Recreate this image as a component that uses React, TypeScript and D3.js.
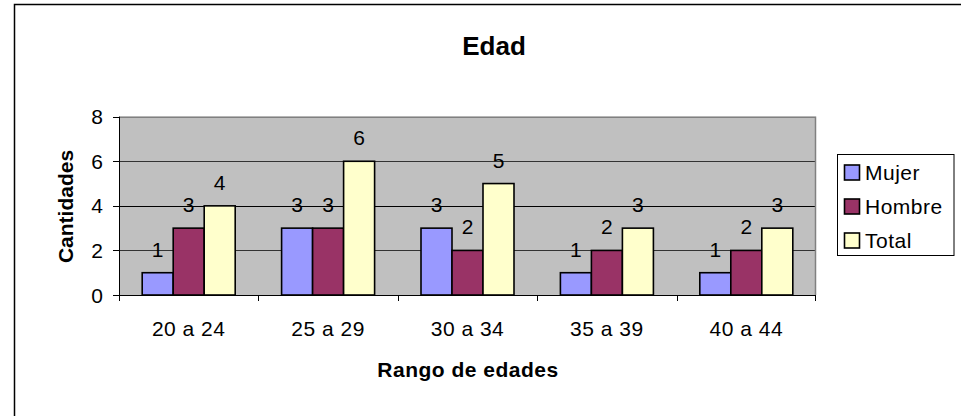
import React from "react";
import * as d3 from "d3";

const categories = ["20 a 24", "25 a 29", "30 a 34", "35 a 39", "40 a 44"];
const seriesNames = ["Mujer", "Hombre", "Total"];
const mujer = [1, 3, 3, 1, 1];
const hombre = [3, 3, 2, 2, 2];
const total = [4, 6, 5, 3, 3];
const yTicks = [0, 2, 4, 6, 8];
const colors = ["#9999FF", "#993366", "#FFFFCC"];

const FONT = "Arial, 'Liberation Sans', sans-serif";

export default function App() {
  const W = 961, H = 416;
  const left = 119, right = 816, top = 116.7, bottom = 295;
  const series = [mujer, hombre, total];
  const x = d3.scaleBand().domain(categories).range([left, right]).paddingInner(0).paddingOuter(0);
  const inner = d3.scaleBand().domain(seriesNames).range([0, 93]);
  const y = d3.scaleLinear().domain([0, 8]).range([bottom, top]);
  const cw = x.bandwidth();
  const fs = 21;
  const ls = 0.5;
  return (
    <svg width={W} height={H} style={{ position: "absolute", left: 0, top: 0, background: "#fff" }}>
      <rect x={0} y={0} width={W} height={H} fill="#fff" />
      <path d={`M14.5,${H} V4.5 H${W}`} fill="none" stroke="#000" strokeWidth={1.5} />
      <text x={494} y={55} textAnchor="middle" fontFamily={FONT} fontWeight="bold" fontSize={26}>Edad</text>
      <rect x={left} y={top} width={right - left} height={bottom - top} fill="#C0C0C0" />
      {yTicks.filter(t => t > 0 && t < 8).map(t => (
        <line key={t} x1={left} x2={right} y1={Math.round(y(t)) + 0.5} y2={Math.round(y(t)) + 0.5} stroke={t === 4 ? "#000" : "#333"} strokeWidth={1} />
      ))}
      <path d={`M${left},${top + 0.5} H${right - 0.5} V${bottom}`} fill="none" stroke="#808080" strokeWidth={1.5} />
      {categories.map((c, i) => (
        <g key={c}>
          {series.map((s, j) => {
            const bx = (x(c) as number) + (cw - 93) / 2 + (inner(seriesNames[j]) as number);
            const bw = inner.bandwidth();
            return (
              <g key={j}>
                <rect x={bx} y={y(s[i])} width={bw} height={bottom - y(s[i])} fill={colors[j]} stroke="#000" strokeWidth={1.6} />
                <text x={bx + bw / 2} y={y(s[i]) - 16} textAnchor="middle" fontFamily={FONT} fontSize={fs}>{s[i]}</text>
              </g>
            );
          })}
        </g>
      ))}
      <line x1={left + 0.5} x2={left + 0.5} y1={top} y2={bottom + 5} stroke="#000" strokeWidth={1} />
      <line x1={left - 6} x2={right} y1={bottom + 0.5} y2={bottom + 0.5} stroke="#000" strokeWidth={1} />
      {yTicks.map(t => (
        <g key={t}>
          <line x1={left - 6} x2={left} y1={Math.round(y(t)) + 0.5} y2={Math.round(y(t)) + 0.5} stroke="#000" />
          <text x={103} y={y(t) + 7.5} textAnchor="end" fontFamily={FONT} fontSize={fs}>{t}</text>
        </g>
      ))}
      {categories.map((c) => (
        <g key={c}>
          <line x1={Math.round(x(c) as number) + 0.5} x2={Math.round(x(c) as number) + 0.5} y1={bottom} y2={bottom + 6} stroke="#000" />
          <text x={(x(c) as number) + cw / 2} y={336} textAnchor="middle" fontFamily={FONT} fontSize={fs} letterSpacing={ls}>{c}</text>
        </g>
      ))}
      <line x1={right - 0.5} x2={right - 0.5} y1={bottom} y2={bottom + 6} stroke="#000" />
      <text x={468} y={376.5} textAnchor="middle" fontFamily={FONT} fontWeight="bold" fontSize={fs} letterSpacing={ls}>Rango de edades</text>
      <text transform={`translate(73,206.5) rotate(-90)`} textAnchor="middle" fontFamily={FONT} fontWeight="bold" fontSize={fs}>Cantidades</text>
      <rect x={837.5} y={154.5} width={116.5} height={101} fill="#fff" stroke="#000" strokeWidth={1} />
      {seriesNames.map((n, j) => {
        const sy = 165 + j * 34;
        return (
          <g key={n}>
            <rect x={844.5} y={sy} width={15} height={15} fill={colors[j]} stroke="#000" strokeWidth={1.6} />
            <text x={865} y={sy + 15} fontFamily={FONT} fontSize={fs} letterSpacing={ls}>{n}</text>
          </g>
        );
      })}
    </svg>
  );
}
